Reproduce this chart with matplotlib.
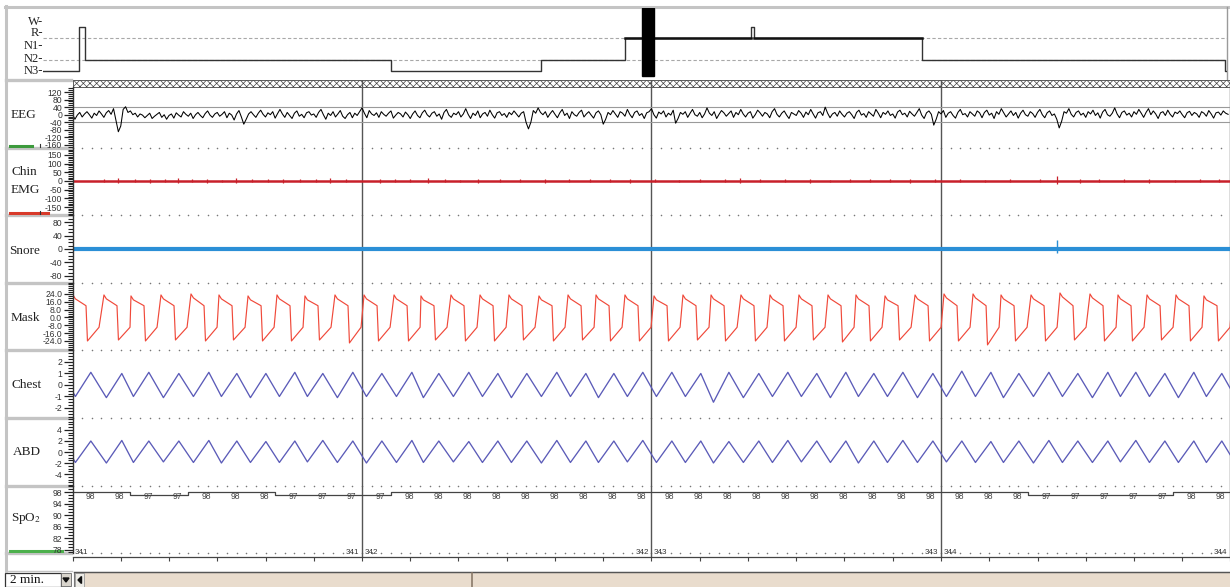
import numpy as np
import matplotlib
matplotlib.use('Agg')
import matplotlib.pyplot as plt
from matplotlib.patches import Rectangle, Polygon

W, H = 1230, 587
plt.rcParams['hatch.linewidth'] = 0.5
plt.rcParams['mathtext.fontset'] = 'stix'

# ------------------------------------------------------------------ data
stage_levels = {'N3': 0, 'N2': 1, 'N1': 2, 'R': 3, 'W': 4}
stage_labels = ['W-', 'R-', 'N1-', 'N2-', 'N3-']
hyp_bounds = [0, 12, 14, 116, 166, 194, 236, 237, 293, 394, 395]
hyp_stages = ['N3', 'W', 'N2', 'N3', 'N2', 'R', 'W', 'R', 'N2', 'N3']
hyp_marker = [199.7, 203.7]

# breath onsets (Mask peak times, s) and per-breath extremes
breath_t = [-2.90, 0.05, 3.26, 6.06, 9.17, 12.28, 15.18, 18.19, 21.19, 24.09,
            27.20, 30.21, 33.32, 36.11, 39.22, 42.23, 45.23, 48.34, 51.35, 54.25,
            57.25, 60.26, 63.26, 66.17, 69.27, 72.28, 75.28, 78.29, 81.19, 84.20,
            87.31, 90.31, 93.32, 96.22, 99.33, 102.33, 105.44, 108.34, 111.35, 114.35,
            117.25, 120.20]
mask_peak = [22, 23, 23, 22, 23, 24, 23, 22, 23, 22,
             23, 23, 23, 22, 23, 23, 23, 22, 23, 23,
             23, 22, 23, 23, 23, 23, 23, 23, 23, 22,
             23, 24, 24, 23, 23, 25, 24, 23, 23, 23,
             22, 23]
mask_trough = [-24, -24, -23, -24, -23, -24, -23, -24, -24, -23,
               -26, -24, -24, -23, -24, -24, -23, -24, -23, -24,
               -24, -24, -23, -24, -24, -24, -23, -25, -24, -23,
               -24, -24, -28, -24, -24, -23, -24, -24, -23, -24,
               -24, -24]
mask_phase = [0.0, 0.25, 1.35, 1.5, 2.7]
mask_plateau_end = 12
mask_prerise = -10
chest_hi = [1.0, 1.1, 1.0, 1.1, 1.0, 1.1, 1.0, 1.0, 1.1, 1.0,
            1.1, 1.0, 1.1, 1.0, 1.1, 1.0, 1.0, 1.1, 1.0, 1.0,
            1.1, 1.1, 1.0, 1.1, 1.0, 1.1, 1.0, 1.1, 1.0, 1.1,
            1.0, 1.2, 1.1, 1.0, 1.1, 1.0, 1.1, 1.1, 1.0, 1.1,
            1.0, 1.0]
chest_lo = [-1.0, -1.0, -1.1, -1.0, -1.1, -1.0, -1.0, -1.1, -1.0, -1.0,
            -1.1, -1.0, -1.0, -1.1, -1.0, -1.0, -1.1, -1.0, -1.0, -1.1,
            -1.0, -1.0, -1.0, -1.5, -1.1, -1.0, -1.0, -1.1, -1.0, -1.0,
            -1.1, -1.0, -1.0, -1.1, -1.0, -1.0, -1.1, -1.0, -1.0, -1.1,
            -1.0, -1.0]
abd_hi = [2.0, 2.0, 2.1, 2.0, 2.0, 2.1, 2.0, 1.9, 2.0, 2.1,
          2.0, 2.0, 2.1, 2.0, 1.9, 2.0, 2.0, 2.1, 2.0, 2.0,
          2.1, 2.0, 2.0, 1.9, 2.0, 2.1, 2.0, 2.0, 2.0, 2.1,
          2.0, 2.0, 1.9, 2.0, 2.1, 2.0, 2.0, 2.1, 2.0, 2.0,
          2.0, 2.0]
abd_lo = [-1.9, -1.9, -2.0, -1.9, -1.8, -1.9, -2.0, -1.9, -1.9, -1.8,
          -1.9, -2.0, -1.9, -1.9, -1.8, -1.9, -1.9, -2.0, -1.9, -1.9,
          -1.8, -1.9, -1.9, -2.0, -1.9, -1.9, -1.8, -1.9, -2.0, -1.9,
          -1.9, -1.8, -1.9, -1.9, -2.0, -1.9, -1.9, -1.8, -1.9, -1.9,
          -1.9, -1.9]
chest_phase = [0.25, 1.85]

eeg_rate = 4  # samples per second
eeg_uv = [
    2, -24, -2, 12, -12, 4, 16, 0, -18, 8, -4, 20, 4, -14, 10, 22, 2, 32, -28, -90,
    -60, 28, 42, 12, 20, 0, 8, -12, 4, -2, -16, -4, 8, -20, -8, 2, 12, -14, 0, -24,
    -4, 4, -18, 10, -2, -12, 16, 2, -8, 8, -20, 0, 12, -4, -16, 6, 20, -2, -14, 4,
    12, -8, 2, 16, -16, 8, -2, -28, 4, 22, -12, -50, -24, 4, 16, 0, -14, 8, 24, 2,
    -12, 10, 0, 16, -18, 6, 28, 4, -14, 12, -4, -20, 8, 20, -8, 2, -16, 10, 16, -2,
    4, -14, 12, 28, 0, -24, 8, -4, 16, -12, 4, 22, -8, -20, 0, 12, -16, 8, -4, 16,
    36, 8, -16, 22, 4, -4, 10, -14, 16, 2, -8, 8, 20, -18, -2, 12, 4, -12, 14, 0,
    -20, 4, 20, -4, -16, 10, 24, 0, -12, 8, 16, -8, 4, -24, 12, 28, -2, -14, 8, 0,
    16, -12, 4, 32, 2, -20, 8, -4, 20, -16, 4, 12, -8, 24, 0, -18, 10, 16, -4, 6,
    -14, 12, 0, 20, 4, -12, 8, 16, -40, -75, -40, 22, 8, 36, 12, 0, 16, -14, 6, 22,
    2, -16, 10, 28, -4, 8, -20, 16, 0, -8, 12, 24, -12, 4, 16, -2, -18, 10, 20, 0,
    -50, -24, 12, 0, 22, 4, -14, 16, 8, -8, 28, 2, -16, 12, 20, -4, 6, -20, 10, 16,
    32, 0, -18, 14, 4, 20, -12, 8, -2, 24, -45, -20, 12, 2, 16, -14, 8, 28, 0, -8,
    12, -16, 4, 36, 8, -4, 16, -20, 2, 22, 10, -8, 6, 20, -14, 12, 0, 28, 4, -12,
    8, 16, -18, 0, 24, 10, -8, 12, 4, -16, 16, 32, 2, -12, 8, 20, -2, -20, 12, 4,
    -4, 22, 8, -14, 14, 0, 28, 4, -18, 10, 16, -4, 40, 8, -16, 4, 12, -8, 20, 2,
    -12, 8, 16, 0, -20, 12, 24, -2, 6, -14, 16, 4, -8, 28, 8, -16, 12, 2, 20, -4,
    4, -18, 14, 24, 0, 8, -12, 18, 4, -8, 12, 32, -2, -20, 10, 20, 2, -55, -24, 16,
    4, 22, -14, 8, 16, -4, -18, 12, 28, 0, 6, -12, 16, 4, -8, 20, 10, -16, 12, 24,
    -2, 8, -20, 16, 2, 32, 10, -12, 4, 20, -4, 12, -18, 8, 24, 0, -8, 16, 6, -14,
    12, 28, 0, -16, 10, 20, -4, 4, -24, -70, -35, 16, 8, 32, 2, -12, 12, 20, -2, 8,
    -14, 16, 4, 24, -4, 10, -18, 14, 28, 0, -8, 8, 36, 4, -16, 12, 20, -2, 8, -12,
    16, 2, 28, 8, -14, 12, 32, 0, 20, 4, -20, 10, 16, -4, 24, 2, -12, 14, 6, 20,
    0, -16, 10, 18, -4, 12, 4, -14, 16, 8, -8, 22, 4, -18, 10, 14, -2, 20, 8, 2,
]

emg_t = [3.3, 4.7, 6.5, 8.0, 9.6, 10.9, 12.4, 13.9, 15.5, 16.9,
         18.6, 20.3, 21.8, 23.6, 25.2, 26.7, 28.3, 31.9, 33.4, 35.0,
         36.8, 38.6, 40.2, 42.0, 44.3, 46.4, 49.0, 51.5, 53.6, 55.7,
         57.8, 60.4, 62.9, 65.0, 67.6, 69.2, 71.2, 73.8, 76.4, 78.5,
         80.6, 82.6, 84.7, 86.8, 89.4, 92.0, 94.6, 97.1, 100.3, 102.0,
         104.4, 106.4, 109.0, 111.6, 114.2, 116.8, 118.8]
emg_amp = [12, 18, 10, 14, 9, 16, 11, 13, 8, 15,
           10, 12, 14, 9, 11, 16, 10, 13, 9, 12,
           15, 10, 8, 14, 11, 9, 13, 10, 12, 9,
           14, 11, 8, 12, 10, 15, 9, 11, 13, 8,
           10, 12, 9, 14, 11, 10, 8, 12, 10, 28,
           14, 9, 11, 13, 8, 10, 12]

snore_t = [12.0, 25.5, 40.8, 58.2, 74.5, 88.0, 102.0, 113.5]
snore_amp = [5, 4, 6, 5, 4, 5, 26, 5]

spo2_step = 3
spo2_vals = [98, 98, 97, 97, 98, 98, 98, 97, 97, 97,
             97, 98, 98, 98, 98, 98, 98, 98, 98, 98,
             98, 98, 98, 98, 98, 98, 98, 98, 98, 98,
             98, 98, 98, 97, 97, 97, 97, 97, 98, 98]

epoch_ids = [341, 342, 343, 344]
epoch_len = 30
time_ticks = [30, 60, 90, 120]
time_tick_labels = ['30"', '60"', '90"', '120"']

panels = [
    # name, top px, bottom px, ylim, major ticks, tick labels, minor step
    ('EEG', 87, 148, (-176, 146.5), [120, 80, 40, 0, -40, -80, -120, -160],
     ['120', '80', '40', '0', '-40', '-80', '-120', '-160'], 10),
    ('EMG', 148, 215, (-196, 190), [150, 100, 50, 0, -50, -100, -150],
     ['150', '100', '50', '0', '-50', '-100', '-150'], 10),
    ('Snore', 215, 283, (-101, 101), [80, 40, 0, -40, -80],
     ['80', '40', '0', '-40', '-80'], 10),
    ('Mask', 283, 350, (-33.2, 35.2), [24, 16, 8, 0, -8, -16, -24],
     ['24.0', '16.0', '8.0', '0.0', '-8.0', '-16.0', '-24.0'], 2),
    ('Chest', 350, 418, (-2.87, 3.04), [2, 1, 0, -1, -2],
     ['2', '1', '0', '-1', '-2'], 0.25),
    ('ABD', 418, 486, (-6.18, 6.18), [4, 2, 0, -2, -4],
     ['4', '2', '0', '-2', '-4'], 0.5),
    ('SpO2', 486, 553, (76.8, 100.1), [98, 94, 90, 86, 82, 78],
     ['98', '94', '90', '86', '82', '78'], 1),
]

# ------------------------------------------------------------------ figure
fig = plt.figure(figsize=(W / 100, H / 100), dpi=100)
fig.patch.set_facecolor('white')


def px_axes(x0, y0, x1, y1, **kw):
    return fig.add_axes([x0 / W, 1 - y1 / H, (x1 - x0) / W, (y1 - y0) / H], **kw)


SERIF = 'Liberation Serif'
SANS = 'Liberation Sans'
X0, X1 = 72.5, 1230.5

# chrome layer (window frame, label column, scrollbar)
ch = px_axes(0, 0, W, H)
ch.set_xlim(0, W)
ch.set_ylim(H, 0)
ch.axis('off')
ch.set_facecolor('none')
frame_c = '#c4c4c4'
ch.plot([5, W], [6.5, 6.5], color=frame_c, lw=2.2)
ch.plot([6, 6], [6, 571], color=frame_c, lw=2.2)
ch.plot([1227, 1227], [7, 79], color='#9a9a9a', lw=1)
for yb in [80, 148, 215, 283, 350, 418, 486, 553]:
    ch.plot([6, 71], [yb, yb], color=frame_c, lw=2.4)
ch.plot([6, 72], [571, 571], color=frame_c, lw=1)
# colour keys in label column
ch.plot([10, 32], [146, 146], color='#3c9a3c', lw=2.2)
ch.plot([40, 40], [144, 147], color='#333', lw=0.8)
ch.plot([10, 48], [213, 213], color='#d83a2a', lw=2.2)
ch.plot([40, 40], [211, 214], color='#333', lw=0.8)
ch.plot([10, 62], [551, 551], color='#4cb04c', lw=2.2)
# panel labels
lab_kw = dict(family=SERIF, fontsize=9.5, va='center', ha='left', color='#222')
ch.text(11, 115, 'EEG', **lab_kw)
ch.text(11, 172, 'Chin', **lab_kw)
ch.text(11, 190, 'EMG', **lab_kw)
ch.text(9, 251, 'Snore', **lab_kw)
ch.text(11, 318, 'Mask', **lab_kw)
ch.text(11, 385, 'Chest', **lab_kw)
ch.text(13, 452, 'ABD', **lab_kw)
ch.text(11, 518, r'SpO$_2$', **lab_kw)
# hypnogram stage labels
for lab, yy in zip(stage_labels, [22, 33.5, 46, 58.5, 70.5]):
    ch.text(43, yy, lab, family=SERIF, fontsize=9, ha='right', va='center', color='#222')
# bottom bar
ch.add_patch(Rectangle((74, 572), 1160, 16, facecolor='#e9dccd', edgecolor='#777', lw=0.8))
ch.plot([74, W], [572, 572], color='#555', lw=1)
ch.plot([472, 472], [573, 587], color='#8a7a6a', lw=1.2)
ch.add_patch(Rectangle((75, 573), 9, 14, facecolor='#ecebe6', edgecolor='#999', lw=0.6))
ch.add_patch(Polygon([[81.5, 576.5], [81.5, 583.5], [78, 580]], closed=True, color='#111'))
ch.add_patch(Rectangle((5, 572.5), 56, 14, facecolor='white', edgecolor='#333', lw=0.9))
ch.text(10, 580, '2 min.', family=SERIF, fontsize=9.5, va='center', ha='left', color='#111')
ch.add_patch(Rectangle((61, 573), 10, 13, facecolor='#d8d4cc', edgecolor='#666', lw=0.6))
ch.add_patch(Polygon([[63, 578], [69, 578], [66, 582]], closed=True, color='#111'))

# hypnogram
hy = px_axes(43, 8, 1227, 78)
hy.set_facecolor('none')
hy.set_xlim(0, 394.7)
hy.set_ylim(-0.64, 5.73)
hy.axis('off')
for lev in [stage_levels['R'], stage_levels['N2']]:
    hy.axhline(lev, color='#a8a8a8', lw=0.8, ls=(0, (3, 2)), zorder=1)
levels = [stage_levels[s] for s in hyp_stages]
hy.step(hyp_bounds, levels + [levels[-1]], where='post', color='#333', lw=1.0, zorder=2)
for a, b, s in zip(hyp_bounds[:-1], hyp_bounds[1:], hyp_stages):
    if s == 'R':
        hy.plot([a, b], [stage_levels[s]] * 2, color='#111', lw=1.8, zorder=3)
hy.axvspan(hyp_marker[0], hyp_marker[1], ymin=0.03, ymax=1.0, color='black', zorder=4)

# background / shared time layer
bg = px_axes(X0, 80, X1, 557)
bg.set_facecolor('none')
bg.set_xlim(0, 120)
bg.set_ylim(557, 80)
for s in ['top', 'right', 'left']:
    bg.spines[s].set_visible(False)
bg.spines['bottom'].set_color('#444')
bg.spines['bottom'].set_linewidth(0.9)
bg.set_yticks([])
bg.set_xticks(np.arange(0, 121, 5))
bg.set_xticklabels(['' for _ in range(25)])
bg.set_xticks(time_ticks, minor=True)
bg.set_xticklabels(time_tick_labels, minor=True, family=SANS, fontsize=6.3, color='#333')
bg.tick_params(axis='x', which='major', length=3, width=0.8, color='#444')
bg.tick_params(axis='x', which='minor', length=0, pad=6)
bg.add_patch(Rectangle((0, 80), 120, 7, facecolor='white', edgecolor='#444',
                       hatch='xxxxx', lw=0.6, zorder=1))
dot_t = np.arange(1, 120, 1)
for yb in [148, 215, 283, 350, 418, 486, 553]:
    bg.scatter(dot_t, np.full(dot_t.shape, yb), s=1.3, color='#777', zorder=1, lw=0)
for k in range(1, 5):
    bg.plot([k * epoch_len] * 2, [80, 557], color='#555', lw=1.0, zorder=2)
num_kw = dict(family=SANS, fontsize=5.8, color='#333', va='center')
bg.text(0.2, 552, str(epoch_ids[0]), ha='left', **num_kw)
for k in range(1, 4):
    bg.text(k * epoch_len - 0.25, 552, str(epoch_ids[k - 1]), ha='right', **num_kw)
    bg.text(k * epoch_len + 0.25, 552, str(epoch_ids[k]), ha='left', **num_kw)
bg.text(119.7, 552, str(epoch_ids[3]), ha='right', **num_kw)

# signal panels
axes = {}
for name, top, bot, ylim, maj, majlab, mstep in panels:
    ax = px_axes(X0, top, X1, bot)
    ax.set_facecolor('none')
    ax.set_xlim(0, 120)
    ax.set_ylim(*ylim)
    for s in ['top', 'right', 'bottom']:
        ax.spines[s].set_visible(False)
    ax.spines['left'].set_color('#333')
    ax.spines['left'].set_linewidth(1.0)
    ax.set_xticks([])
    ax.set_yticks(maj)
    ax.set_yticklabels(majlab, family=SANS, fontsize=6.2, color='#333')
    lo_t = np.ceil(ylim[0] / mstep) * mstep
    ax.set_yticks(np.arange(lo_t, ylim[1], mstep), minor=True)
    ax.tick_params(axis='y', which='major', length=6.5, width=0.9, color='#222', pad=1)
    ax.tick_params(axis='y', which='minor', length=3.5, width=0.8, color='#222')
    axes[name] = ax

# EEG
ax = axes['EEG']
ax.axhline(40, color='#9a9a9a', lw=0.8)
ax.axhline(-40, color='#9a9a9a', lw=0.8)
eeg_time = np.arange(len(eeg_uv)) / eeg_rate
ax.plot(eeg_time, eeg_uv, color='black', lw=0.75)

# Chin EMG
ax = axes['EMG']
ax.axhline(0, color='#c8202a', lw=1.8)
ax.vlines(emg_t, -np.array(emg_amp) * 0.7, emg_amp, color='#c8202a', lw=0.9)

# Snore
ax = axes['Snore']
ax.axhline(0, color='#2b8fd6', lw=3.0)
ax.vlines(snore_t, -np.array(snore_amp) * 0.4, snore_amp, color='#2b8fd6', lw=1.0)

# Mask
mask_t, mask_v = [], []
for tp, p, q in zip(breath_t, mask_peak, mask_trough):
    vals = [p, p - 4, mask_plateau_end, q, mask_prerise]
    for ph, v in zip(mask_phase, vals):
        mask_t.append(tp + ph)
        mask_v.append(v)
axes['Mask'].plot(mask_t, mask_v, color='#f0493a', lw=0.85)

# Chest / ABD
for name, hi, lo in [('Chest', chest_hi, chest_lo), ('ABD', abd_hi, abd_lo)]:
    tt, vv = [], []
    for tp, h, l in zip(breath_t, hi, lo):
        tt += [tp + chest_phase[0], tp + chest_phase[1]]
        vv += [l, h]
    axes[name].plot(tt, vv, color='#5b5bb8', lw=0.95)

# SpO2
ax = axes['SpO2']
edges = np.arange(len(spo2_vals) + 1) * spo2_step
ax.step(edges, spo2_vals + [spo2_vals[-1]], where='post', color='#444', lw=0.9)
for i, v in enumerate(spo2_vals):
    ax.text(i * spo2_step + 1.9, 96.3, str(v), family=SANS, fontsize=6.2,
            color='#444', ha='center', va='center')

fig.savefig('out.png', dpi=100)
